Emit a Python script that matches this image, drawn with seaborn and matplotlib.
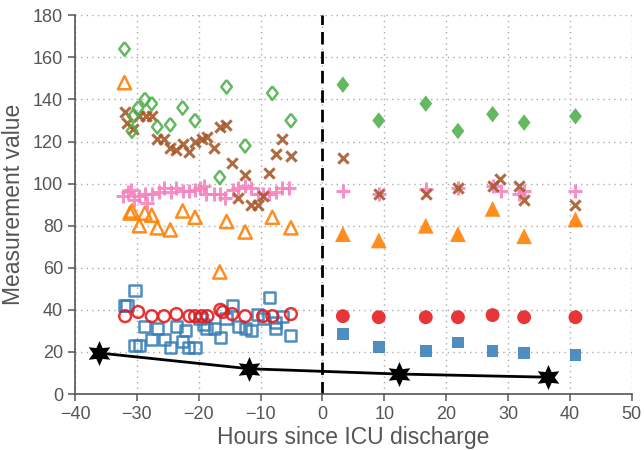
import matplotlib
matplotlib.use("Agg")
import matplotlib.pyplot as plt
import seaborn as sns
import numpy as np

# ---- data ----
green_pre_x = [-32.0, -30.6, -30.8, -29.8, -28.7, -27.6, -26.7, -24.6, -22.6, -20.6, -15.5, -16.6, -12.5, -8.1, -5.1]
green_pre_y = [164, 132, 125, 136, 140, 138, 127, 128, 136, 130, 146, 103, 118, 143, 130]

orange_pre_x = [-32.0, -30.8, -31.1, -29.6, -28.7, -27.6, -26.7, -24.6, -22.6, -20.6, -16.6, -15.5, -12.5, -8.1, -5.1]
orange_pre_y = [148, 87, 86, 80, 86, 85, 79, 78, 87, 84, 58, 82, 77, 84, 79]

brown_pre_x = [-32.0, -31.6, -30.6, -29.6, -28.6, -27.6, -26.7, -25.6, -24.6, -23.6, -22.6, -21.5, -20.6, -19.5,
               -18.6, -17.6, -16.5, -15.6, -14.6, -13.6, -12.5, -11.5, -10.5, -9.6, -8.6, -7.5, -6.5, -5.1]
brown_pre_y = [134, 129, 126, 132, 132, 132, 121, 121, 117, 116, 119, 115, 120, 121,
               122, 117, 127, 128, 110, 93, 104, 90, 90, 94, 105, 114, 121, 113]

pink_pre_x = [-32.3, -31.5, -31.0, -30.4, -29.6, -28.7, -28.3, -27.6, -26.5, -25.6, -24.5, -23.6, -22.5, -21.5,
              -20.6, -19.8, -19.1, -18.8, -17.6, -16.6, -15.7, -14.5, -13.6, -12.6, -11.5, -10.5, -9.6, -8.6,
              -7.5, -6.5, -5.4]
pink_pre_y = [94, 96, 97, 92, 94, 95, 91, 95, 96, 98, 96, 98, 96.5, 96.5,
              97, 98, 99, 95, 95, 95, 93, 97, 98, 99, 98, 95, 95, 95,
              96, 98, 98]

red_pre_x = [-31.9, -29.8, -27.6, -25.6, -23.6, -21.5, -20.6, -19.5, -18.6, -16.5, -16.1, -14.6, -12.5, -9.6, -8.1, -5.1]
red_pre_y = [37, 39, 37, 37, 38, 37, 37, 37, 37, 40, 39, 38, 37, 37, 37, 38]

blue_pre_x = [-32.0, -31.6, -30.3, -30.3, -29.6, -28.7, -27.6, -26.7, -25.6, -24.6, -23.6, -22.6, -22.2, -21.6,
              -20.6, -19.8, -19.3, -18.8, -17.4, -16.5, -15.6, -14.6, -13.6, -12.5, -11.5, -10.5, -9.6, -8.6,
              -7.6, -7.6, -6.5, -5.1]
blue_pre_y = [42, 42, 49, 23, 23, 32, 26, 31, 26, 22, 32, 25, 30, 22,
              22, 36, 33, 31, 31, 27, 36, 42, 32, 31, 30, 38, 36, 46,
              34, 31, 37, 28]

post_x = [3.3, 9.1, 16.7, 21.9, 27.5, 32.6, 40.9]
green_post_y = [147, 130, 138, 125, 133, 129, 132]
orange_post_y = [76, 73, 80, 76, 88, 75, 83]
red_post_y = [37, 36.5, 36.5, 36.5, 37.5, 36.5, 36.5]
blue_post_y = [28.5, 22.5, 20.3, 24.5, 20.3, 19.5, 18.4]

brown_post_x = [3.3, 9.1, 16.7, 21.9, 27.5, 28.7, 31.8, 32.6, 40.9]
brown_post_y = [112, 95, 95, 98, 99, 102, 99, 92, 90]
pink_post_x = [3.3, 9.1, 16.7, 21.9, 27.5, 28.8, 31.8, 32.6, 40.9]
pink_post_y = [96.5, 95, 97.5, 98, 99, 96.5, 95, 96.5, 96.5]

star_x = [-36.1, -11.8, 12.3, 36.5]
star_y = [19.5, 12, 9.5, 8]

x_ticks = [-40, -30, -20, -10, 0, 10, 20, 30, 40, 50]
y_ticks = [0, 20, 40, 60, 80, 100, 120, 140, 160, 180]
x_label = "Hours since ICU discharge"
y_label = "Measurement value"

# ---- style ----
sns.set_theme(style="white")
plt.rcParams['font.family'] = ['Liberation Sans', 'DejaVu Sans']

C_GREEN = "#4daf4a"
C_ORANGE = "#ff7f00"
C_BROWN = "#a65628"
C_PINK = "#f781bf"
C_RED = "#e41a1c"
C_BLUE = "#377eb8"
ALPHA = 0.88

diamond = [(0, 1), (0.78, 0), (0, -1), (-0.78, 0), (0, 1)]

fig = plt.figure(figsize=(6.44, 4.5), dpi=100)
ax = fig.add_axes([0.1165, 0.1244, 0.8645, 0.8416])

def open_pts(x, y, color, marker, s, lw=1.8):
    sns.scatterplot(x=x, y=y, ax=ax, marker=marker, s=s, facecolors="none",
                    edgecolor=color, linewidth=lw, alpha=ALPHA, zorder=3)

def line_pts(x, y, color, marker, s, lw=2.2):
    sns.scatterplot(x=x, y=y, ax=ax, marker=marker, s=s, color=color,
                    linewidth=lw, alpha=ALPHA, zorder=3)

def filled_pts(x, y, color, marker, s):
    sns.scatterplot(x=x, y=y, ax=ax, marker=marker, s=s, color=color,
                    edgecolor="none", linewidth=0, alpha=ALPHA, zorder=3)

# pre-discharge (open)
open_pts(blue_pre_x, blue_pre_y, C_BLUE, "s", 64)
open_pts(red_pre_x, red_pre_y, C_RED, "o", 72)
open_pts(orange_pre_x, orange_pre_y, C_ORANGE, "^", 90)
line_pts(pink_pre_x, pink_pre_y, C_PINK, "+", 90)
line_pts(brown_pre_x, brown_pre_y, C_BROWN, "x", 55)
open_pts(green_pre_x, green_pre_y, C_GREEN, diamond, 95)

# post-discharge (filled)
filled_pts(post_x, blue_post_y, C_BLUE, "s", 72)
filled_pts(post_x, red_post_y, C_RED, "o", 100)
filled_pts(post_x, orange_post_y, C_ORANGE, "^", 130)
line_pts(pink_post_x, pink_post_y, C_PINK, "+", 90)
line_pts(brown_post_x, brown_post_y, C_BROWN, "x", 55)
filled_pts(post_x, green_post_y, C_GREEN, diamond, 140)

# stars with line
sns.lineplot(x=star_x, y=star_y, ax=ax, color="black", linewidth=2, sort=False,
             estimator=None, marker=(6, 1, 0), markersize=18, markeredgewidth=0,
             markerfacecolor="black", zorder=4)

ax.axvline(0, color="black", linestyle=(0, (4.5, 2.5)), linewidth=2, zorder=2)

ax.set_xlim(-40, 50)
ax.set_ylim(0, 180)
ax.set_xticks(x_ticks)
ax.set_yticks(y_ticks)
ax.set_xticklabels([str(t).replace('-', '\u2212') for t in x_ticks])
ax.set_yticklabels([str(t) for t in y_ticks])

ax.grid(True, color="#aaaaaa", linestyle=(0, (1, 3)), linewidth=1)
ax.set_axisbelow(True)
for side in ["top", "right"]:
    ax.spines[side].set_visible(False)
for side in ["left", "bottom"]:
    ax.spines[side].set_color("#555555")
    ax.spines[side].set_linewidth(1.2)
ax.tick_params(axis="both", direction="out", length=5, width=1.1, color="#555555",
               labelsize=13, labelcolor="#555555", bottom=True, left=True)
ax.set_xlabel(x_label, fontsize=16.5, color="#555555", labelpad=2)
ax.set_ylabel(y_label, fontsize=16.5, color="#555555", labelpad=6)

fig.savefig("out.png", dpi=100)
